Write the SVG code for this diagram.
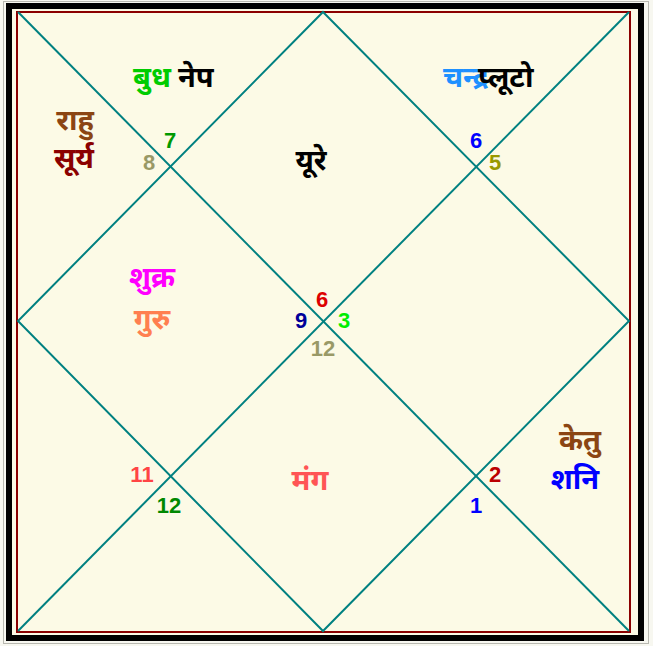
<svg xmlns="http://www.w3.org/2000/svg" width="653" height="646" viewBox="0 0 653 646">
<style>
.ln{stroke:#008080;stroke-width:2;fill:none}
.dv{font-family:"Noto Sans Devanagari","Noto Sans","Liberation Sans",sans-serif;font-size:29px;font-weight:bold;text-anchor:middle}
.st{text-anchor:start}
.num{font-family:"Liberation Sans",Arial,sans-serif;font-weight:bold;font-size:22px;text-anchor:middle}
</style>
<rect x="0" y="0" width="653" height="646" fill="#f7f7f0"/>
<rect x="3.5" y="1.5" width="645" height="642" fill="none" stroke="#b8b8b0" stroke-width="1"/>
<rect x="9" y="6" width="632" height="632" fill="#fcfae6" stroke="#000" stroke-width="6"/>
<rect x="17" y="12" width="613" height="620" fill="#fcfae6" stroke="#8b0000" stroke-width="2"/>
<g id="connectors">
<line class="ln" x1="18" y1="12" x2="629" y2="631"/>
<line class="ln" x1="629" y1="12" x2="18" y2="631"/>
<polygon class="ln" points="323,12 629,321 323,631 18,321"/>
</g>
<g id="house1"><text class="dv" x="311" y="170" fill="#000">यूरे</text></g>
<g id="house2"><text class="dv st" x="133" y="87" fill="#00cc00">बुध</text><text class="dv st" x="178" y="87" fill="#000">नेप</text></g>
<g id="house3"><text class="dv" x="75" y="130" fill="#8b4513">राहु</text><text class="dv" x="74" y="168" fill="#8b0000">सूर्य</text></g>
<g id="house4"><text class="dv" x="152" y="287" fill="#ff00ff">शुक्र</text><text class="dv" x="152" y="329" fill="#ff7f50">गुरु</text></g>
<g id="house10"><text class="dv st" x="443" y="87" fill="#1e90ff">चन्द्र</text><text class="dv st" x="478" y="87" fill="#000">प्लूटो</text></g>
<g id="house7"><text class="dv" x="310" y="490" fill="#ff5555">मंग</text></g>
<g id="house8"><text class="dv" x="580" y="450" fill="#8b4513">केतु</text><text class="dv" x="575" y="489" fill="#0000ff">शनि</text></g>
<g id="numbers">
<text class="num" x="170" y="148" fill="#009900">7</text>
<text class="num" x="149" y="170" fill="#999966">8</text>
<text class="num" x="476" y="148" fill="#0000ff">6</text>
<text class="num" x="495" y="170" fill="#999900">5</text>
<text class="num" x="322" y="307" fill="#dd0000">6</text>
<text class="num" x="301" y="328" fill="#000099">9</text>
<text class="num" x="344" y="328" fill="#00ee00">3</text>
<text class="num" x="323" y="356" fill="#999966">12</text>
<text class="num" x="142" y="482" fill="#ff4444">11</text>
<text class="num" x="169" y="513" fill="#008800">12</text>
<text class="num" x="495" y="482" fill="#bb0000">2</text>
<text class="num" x="476" y="513" fill="#0000ff">1</text>
</g>
</svg>
